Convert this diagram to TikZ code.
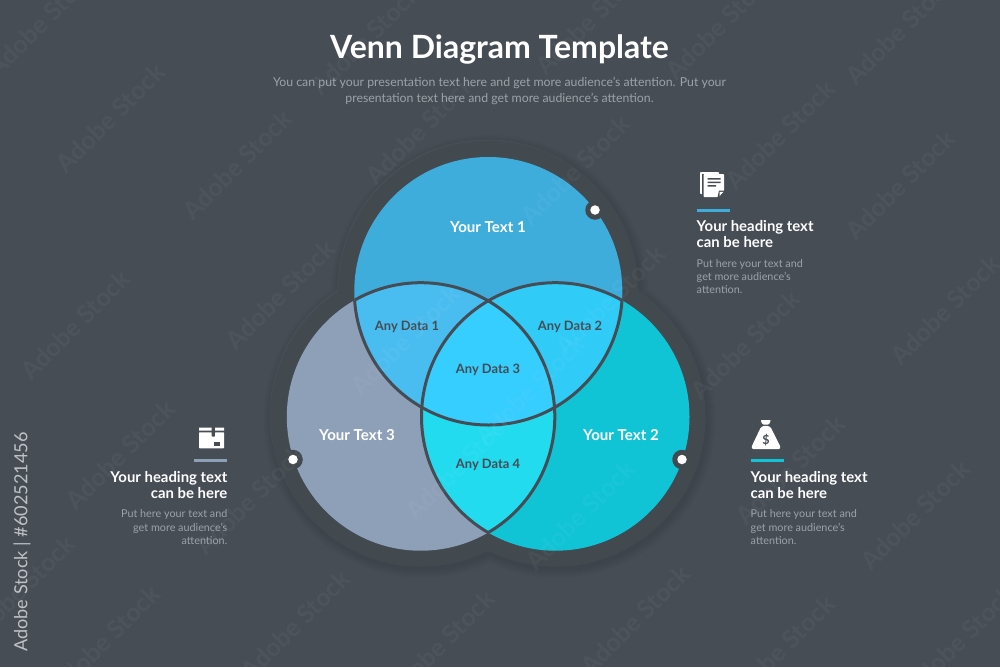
\documentclass[tikz,border=0pt]{standalone}
\usepackage{fontspec}
\setmainfont{Lato}
\usetikzlibrary{positioning}

\begin{document}
\begin{tikzpicture}[x=1pt,y=-1pt]
      \definecolor{slate}{HTML}{464D55}
      \definecolor{darkslate}{HTML}{42494F}
      \definecolor{inktext}{HTML}{454C54}
      \definecolor{dimtext}{HTML}{9DA2A8}
      \definecolor{topblue}{HTML}{3EADDC}
      \definecolor{sidegray}{HTML}{8E9FB8}
      \definecolor{sidecyan}{HTML}{10C4D6}
      \definecolor{lensleft}{HTML}{4ABDF0}
      \definecolor{lensright}{HTML}{30CBF7}
      \definecolor{lensmid}{HTML}{36CDFF}
      \definecolor{lenslow}{HTML}{22DBEF}

      \newcommand{\circtop}[1]{(488.3,291) circle (#1pt)}
      \newcommand{\circright}[1]{(555.5,416.7) circle (#1pt)}
      \newcommand{\circleft}[1]{(420.8,416.7) circle (#1pt)}

      \tikzstyle{venntext} = [text=white, font=\fontsize{15.1}{17}\selectfont\bfseries]
      \tikzstyle{lenstext} = [text=inktext, font=\fontsize{12.9}{15}\selectfont\bfseries]
      \tikzstyle{headtext} = [text=white, inner sep=0pt, align=left, font=\fontsize{14.9}{16}\selectfont\bfseries]
      \tikzstyle{desctext} = [text=dimtext, inner sep=0pt, align=left, font=\fontsize{10.8}{13.2}\selectfont]
      \tikzstyle{bar}      = [rectangle, inner sep=0pt, minimum width=33pt, minimum height=3pt]
      \tikzstyle{notch}    = [circle, inner sep=0pt, minimum size=19.5pt, fill=darkslate]
      \tikzstyle{dot}      = [circle, inner sep=0pt, minimum size=9.5pt, fill=white]
      \tikzstyle{ghost}    = [text=white, opacity=0.04, rotate=45, font=\fontsize{25}{30}\selectfont\bfseries]

      \fill [slate] (0,0) rectangle (1000,667);
      \useasboundingbox (0,0) rectangle (1000,667);

      \foreach \rim in {1,2,...,9} {
        \fill [black, opacity=0.012, shift={(1.5,2.5)}] \circtop{150+\rim} \circright{150+\rim} \circleft{150+\rim};
      }
      \fill [white, opacity=0.04, shift={(-1,-1.5)}] \circtop{150} \circright{150} \circleft{150};
      \fill [darkslate] \circtop{150} \circright{150} \circleft{150};

      \fill [topblue]  \circtop{134};
      \fill [sidecyan] \circright{134};
      \fill [sidegray] \circleft{134};
      \begin{scope}
        \clip \circleft{134};
        \fill [lenslow] \circright{134};
      \end{scope}
      \begin{scope}
        \clip \circtop{134};
        \fill [lensleft]  \circleft{134};
        \fill [lensright] \circright{134};
        \clip \circleft{134};
        \fill [lensmid]   \circright{134};
      \end{scope}
      \begin{scope}
        \clip \circright{134} \circleft{134};
        \draw [inktext, line width=3pt] \circtop{134};
      \end{scope}
      \begin{scope}
        \clip \circtop{134} \circleft{134};
        \draw [inktext, line width=3pt] \circright{134};
      \end{scope}
      \begin{scope}
        \clip \circtop{134} \circright{134};
        \draw [inktext, line width=3pt] \circleft{134};
      \end{scope}

      \node [notch] (notchtop)   at (595,210)   {};
      \node [notch] (notchright) at (682,459.5) {};
      \node [notch] (notchleft)  at (293,459.5) {};
      \node [dot]   (dottop)     at (notchtop)   {};
      \node [dot]   (dotright)   at (notchright) {};
      \node [dot]   (dotleft)    at (notchleft)  {};

      \node [venntext] (texttop)   at (488,227.5) {Your Text 1};
      \node [venntext] (textright) at (621,435.5) {Your Text 2};
      \node [venntext] (textleft)  at (357,435.5) {Your Text 3};
      \node [lenstext] (dataone)   at (407,327) {Any Data 1};
      \node [lenstext] (datatwo)   at (570,327) {Any Data 2};
      \node [lenstext] (datathree) at (488,370) {Any Data 3};
      \node [lenstext] (datafour)  at (488,465) {Any Data 4};

      \node [text=white, font=\fontsize{32}{38}\selectfont\bfseries] (title) at (499.5,49) {Venn Diagram Template};
      \node [text=dimtext, align=center, font=\fontsize{12.3}{16}\selectfont, below = 6pt of title] (subtitle)
        {You can put your presentation text here and get more audience's attention. Put your\\presentation text here and get more audience's attention.};

      \node [bar, fill=topblue, anchor=west] (bartop) at (696.5,210) {};
      \node [headtext, below = 9pt of bartop.south west, anchor=north west] (headtop) {Your heading text\\can be here};
      \node [desctext, below = 11pt of headtop.south west, anchor=north west] (desctop) {Put here your text and\\get more audience's\\attention.};

      \node [bar, fill=sidecyan, anchor=west] (barright) at (750.5,460.5) {};
      \node [headtext, below = 9pt of barright.south west, anchor=north west] (headright) {Your heading text\\can be here};
      \node [desctext, below = 11pt of headright.south west, anchor=north west] (descright) {Put here your text and\\get more audience's\\attention.};

      \node [bar, fill=sidegray, anchor=east] (barleft) at (227.5,460.5) {};
      \node [headtext, align=right, below = 9pt of barleft.south east, anchor=north east] (headleft) {Your heading text\\can be here};
      \node [desctext, align=right, below = 11pt of headleft.south east, anchor=north east] (descleft) {Put here your text and\\get more audience's\\attention.};

      \fill [white, rounded corners=0.8pt] (700,172) rectangle (719,194);
      \fill [slate] (702,173.5) rectangle (720,196);
      \fill [white, rounded corners=0.8pt] (703.5,174) -- (724,174) -- (724,191) -- (718,197) -- (703.5,197) -- cycle;
      \fill [slate] (707.5,178) rectangle (720.5,179.5) (707.5,181.5) rectangle (720.5,183) (707.5,185) rectangle (716,186.5);
      \fill [slate] (724,190.5) -- (719,190.5) -- (717.5,197.5) -- (724.5,197.5) -- cycle;
      \fill [white] (719.6,196) -- (719.6,191.8) -- (723.4,191.8) -- cycle;

      \fill [white] (199,427.7) rectangle (211.7,430.7) (215,427.7) rectangle (224,430.7);
      \fill [white, rounded corners=0.6pt] (199,432.3) -- (211.7,432.3) -- (211.7,436.7) -- (215,436.7) -- (215,432.3) -- (224,432.3) -- (224,448.3) -- (199,448.3) -- cycle;
      \fill [slate] (214,441.7) rectangle (220,445.7);

      \fill [white, rounded corners=1pt] (760.5,420) -- (771,420) -- (769,424.5) -- (762.5,424.5) -- cycle;
      \fill [white, rounded corners=3pt] (761.5,425.8) -- (770,425.8) -- (781.5,449) -- (750.5,449) -- cycle;
      \node [text=slate, inner sep=0pt, font=\fontsize{12.5}{14}\selectfont\bfseries] (dollar) at (766,440) {\$};

      \foreach \gx/\gy in {42/22,110/118,237/165,365/40,420/130,575/170,590/20,720/25,780/135,900/30,900/185,280/295,75/325,405/340,530/390,610/300,745/345,945/310,120/455,250/500,460/465,580/515,790/470,915/515,295/625,635/620,105/640,440/645,780/650,960/640,20/590} {
        \node [ghost] (ghost\gx) at (\gx,\gy) {Adobe Stock};
      }

      \node [text=white, opacity=0.65, rotate=90, font=\fontsize{18.1}{20}\selectfont] (stockmark) at (22,542) {Adobe Stock | \#602521456};
    \end{tikzpicture}
\end{document}
